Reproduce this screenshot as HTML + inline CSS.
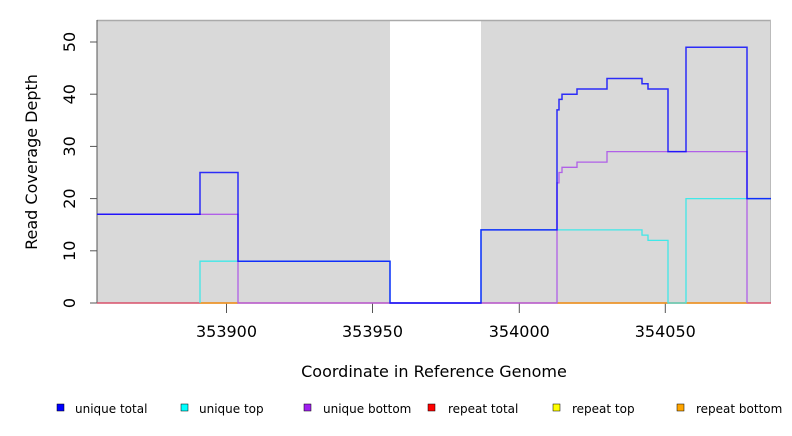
<!DOCTYPE html>
<html><head><style>
body{margin:0;background:#fff;width:792px;height:432px;overflow:hidden;font-family:"DejaVu Sans","Liberation Sans",sans-serif;}
</style></head><body>
<svg width="792" height="432" xmlns="http://www.w3.org/2000/svg" font-family="DejaVu Sans, Liberation Sans, sans-serif">
<rect x="97" y="20" width="293" height="283" fill="#d9d9d9"/>
<rect x="481" y="20" width="290" height="283" fill="#d9d9d9"/>
<line x1="97" y1="20.5" x2="771" y2="20.5" stroke="#aaa" stroke-width="1.5"/>
<line x1="770.5" y1="20" x2="770.5" y2="303" stroke="#bbb"/>
<!-- axes -->
<line x1="97" y1="20" x2="97" y2="303" stroke="#555"/>
<g stroke="#555">
<line x1="90" y1="303" x2="97" y2="303"/><line x1="90" y1="250.8" x2="97" y2="250.8"/><line x1="90" y1="198.6" x2="97" y2="198.6"/><line x1="90" y1="146.4" x2="97" y2="146.4"/><line x1="90" y1="94.2" x2="97" y2="94.2"/><line x1="90" y1="42" x2="97" y2="42"/>
<line x1="226.5" y1="303" x2="226.5" y2="313"/><line x1="372.5" y1="303" x2="372.5" y2="313"/><line x1="519.3" y1="303" x2="519.3" y2="313"/><line x1="665.3" y1="303" x2="665.3" y2="313"/>
</g>
<g font-size="16" fill="#000" text-anchor="middle">
<text transform="translate(75,303) rotate(-90)">0</text>
<text transform="translate(75,250.8) rotate(-90)">10</text>
<text transform="translate(75,198.6) rotate(-90)">20</text>
<text transform="translate(75,146.4) rotate(-90)">30</text>
<text transform="translate(75,94.2) rotate(-90)">40</text>
<text transform="translate(75,42) rotate(-90)">50</text>
<text x="226.5" y="337">353900</text><text x="372.5" y="337">353950</text><text x="519.3" y="337">354000</text><text x="665.3" y="337">354050</text>
<text x="434" y="377">Coordinate in Reference Genome</text>
<text transform="translate(37,162) rotate(-90)">Read Coverage Depth</text>
</g>
<!-- baseline -->
<line x1="97" y1="303" x2="771" y2="303" stroke="#d8506a" stroke-width="1.5"/>
<line x1="200" y1="303" x2="238" y2="303" stroke="#f0a020" stroke-width="1.5"/>
<line x1="557" y1="303" x2="747" y2="303" stroke="#f0a020" stroke-width="1.5"/>
<line x1="390" y1="303" x2="481" y2="303" stroke="#6040ff" stroke-width="1.5"/>
<!-- unique top -->
<polyline fill="none" stroke="#40e8e8" stroke-width="1.3" points="200,303 200,261.2 238,261.2 238,261.2 390,261.2 390,303 481,303 481,229.9 642,229.9 642,235.1 648,235.1 648,240.4 668,240.4 668,303 686,303 686,198.6 747,198.6 771,198.6"/>
<!-- unique bottom -->
<polyline fill="none" stroke="#b060e8" stroke-width="1.3" points="97,214.3 238,214.3 238,303 557,303 557,182.9 559,182.9 559,172.5 562,172.5 562,167.3 577,167.3 577,162.1 607,162.1 607,151.6 747,151.6 747,303"/>
<!-- unique total -->
<polyline fill="none" stroke="#0000ff" stroke-opacity="0.8" stroke-width="1.5" points="97,214.3 200,214.3 200,172.5 238,172.5 238,261.2 390,261.2 390,303 481,303 481,229.9 557,229.9 557,109.9 559,109.9 559,99.4 562,99.4 562,94.2 577,94.2 577,89 607,89 607,78.5 642,78.5 642,83.7 648,83.7 648,89 668,89 668,151.6 686,151.6 686,47.2 747,47.2 747,198.6 771,198.6"/>
<!-- legend -->
<g font-size="12" fill="#000">
<rect x="57" y="404" width="7" height="7" fill="#0000ff" stroke="#000" stroke-width="0.5"/><text x="75" y="413">unique total</text>
<rect x="181" y="404" width="7" height="7" fill="#00ffff" stroke="#000" stroke-width="0.5"/><text x="199" y="413">unique top</text>
<rect x="304" y="404" width="7" height="7" fill="#a020f0" stroke="#000" stroke-width="0.5"/><text x="323" y="413">unique bottom</text>
<rect x="428" y="404" width="7" height="7" fill="#ff0000" stroke="#000" stroke-width="0.5"/><text x="448" y="413">repeat total</text>
<rect x="553" y="404" width="7" height="7" fill="#ffff00" stroke="#000" stroke-width="0.5"/><text x="572" y="413">repeat top</text>
<rect x="677" y="404" width="7" height="7" fill="#ffa500" stroke="#000" stroke-width="0.5"/><text x="696" y="413">repeat bottom</text>
</g>
</svg>
</body></html>
